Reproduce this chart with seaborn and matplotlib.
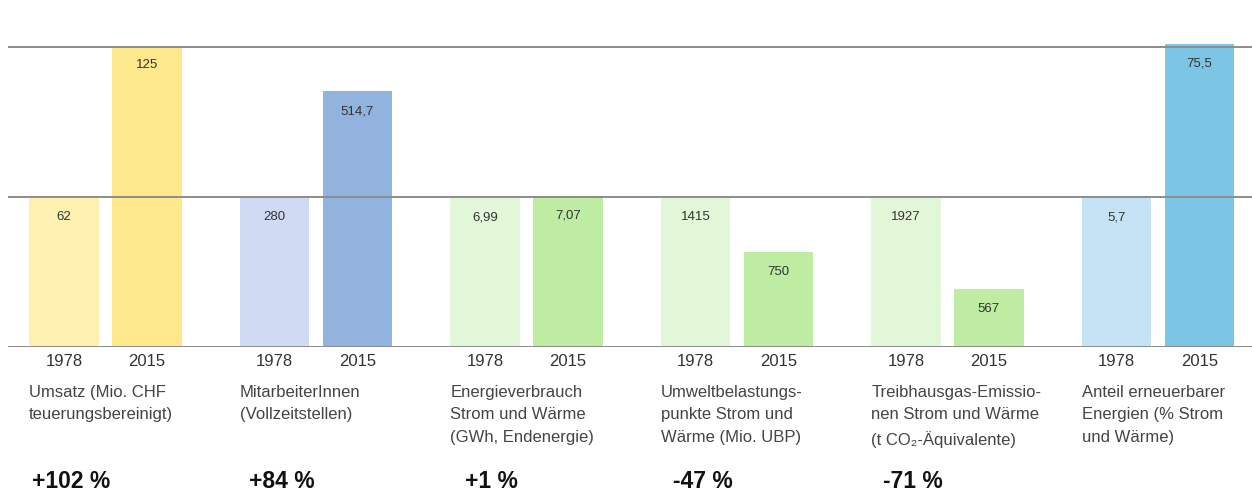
import matplotlib
matplotlib.use("Agg")
import matplotlib.pyplot as plt
import matplotlib.transforms as mtrans
import seaborn as sns
import pandas as pd

# ---- data ----
categories = [
    "Umsatz (Mio. CHF\nteuerungsbereinigt)",
    "MitarbeiterInnen\n(Vollzeitstellen)",
    "Energieverbrauch\nStrom und Wärme\n(GWh, Endenergie)",
    "Umweltbelastungs-\npunkte Strom und\nWärme (Mio. UBP)",
    "Treibhausgas-Emissio-\nnen Strom und Wärme\n(t CO₂-Äquivalente)",
    "Anteil erneuerbarer\nEnergien (% Strom\nund Wärme)",
]
years = ["1978", "2015"]
# bar heights as drawn (index, 1978 = 100)
index_1978 = [100, 100, 100, 100, 100, 100]
index_2015 = [201, 170.5, 101, 63.3, 38.9, 202]
labels_1978 = ["62", "280", "6,99", "1415", "1927", "5,7"]
labels_2015 = ["125", "514,7", "7,07", "750", "567", "75,5"]
changes = ["+102 %", "+84 %", "+1 %", "-47 %", "-71 %", ""]
colors_1978 = ["#fdf0b0", "#cfdbf2", "#e2f6d8", "#e2f6d8", "#e2f6d8", "#c6e3f5"]
colors_2015 = ["#fde98c", "#93b3df", "#bdeca2", "#bdeca2", "#bdeca2", "#7cc5e5"]

sns.set_theme(style="white")
plt.rcParams["font.family"] = ["Liberation Sans", "DejaVu Sans"]

W, H = 1252, 491
fig = plt.figure(figsize=(W / 100, H / 100), dpi=100)
ax = fig.add_axes([8 / W, (H - 347) / H, 1244 / W, 307.5 / H])

df = pd.DataFrame({
    "cat": categories * 2,
    "year": [years[0]] * len(categories) + [years[1]] * len(categories),
    "idx": index_1978 + index_2015,
})
sns.barplot(data=df, x="cat", y="idx", hue="year", order=categories,
            hue_order=years, width=0.789, gap=0.163, ax=ax, legend=False,
            saturation=1, errorbar=None)

all_colors = [colors_1978, colors_2015]
all_labels = [labels_1978, labels_2015]
centers, ticklabels = [], []
for i, cont in enumerate(ax.containers):
    for j, bar in enumerate(cont):
        bar.set_facecolor(all_colors[i][j])
        bar.set_edgecolor("none")
        cx = bar.get_x() + bar.get_width() / 2
        centers.append(cx)
        ticklabels.append(years[i])
        ax.annotate(all_labels[i][j], (cx, bar.get_height()), xytext=(0, -14.4),
                    textcoords="offset points", ha="center", va="center",
                    fontsize=9.5, color="#333333")

order = sorted(range(len(centers)), key=lambda k: centers[k])
ax.set_xticks([centers[k] for k in order], [ticklabels[k] for k in order])
ax.tick_params(axis="x", length=0, pad=5, labelsize=12, labelcolor="#333333")
ax.set_yticks([])
ax.set_xlabel("")
ax.set_ylabel("")
ax.set_xlim(-0.463, 5.447)
ax.set_ylim(0, 205)
for s in ax.spines.values():
    s.set_visible(False)

for y in [0, 100, 200]:
    ax.axhline(y, color="#8c8c8c", lw=1.4, zorder=5)

blend = mtrans.blended_transform_factory(ax.transData, fig.transFigure)
for j, bar in enumerate(ax.containers[0]):
    ax.text(bar.get_x(), 1 - 385 / H, categories[j], transform=blend,
            ha="left", va="top", fontsize=12, color="#444444", linespacing=1.62)
    if changes[j]:
        cx = bar.get_x() + bar.get_width() / 2
        off = mtrans.ScaledTranslation(7 / 100, 0, fig.dpi_scale_trans)
        ax.text(cx, 1 - 482 / H, changes[j], transform=blend + off,
                ha="center", va="center", fontsize=16.5, fontweight="bold",
                color="#111111")

fig.savefig("out.png", dpi=100)
